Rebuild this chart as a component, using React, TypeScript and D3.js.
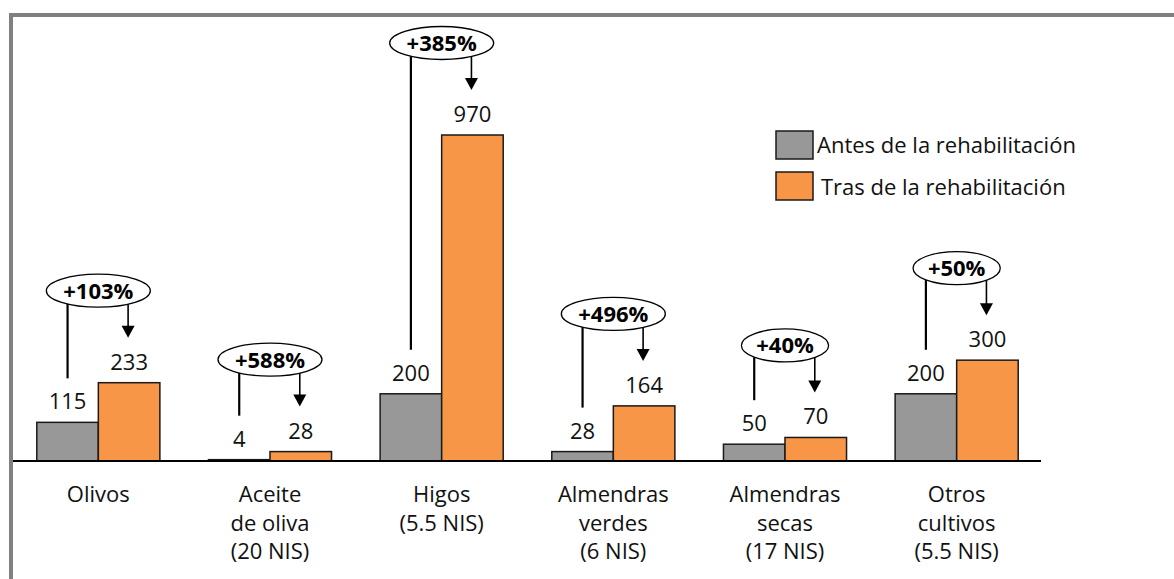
import * as d3 from "d3";

const categories: string[][] = [
  ["Olivos"],
  ["Aceite", "de oliva", "(20 NIS)"],
  ["Higos", "(5.5 NIS)"],
  ["Almendras", "verdes", "(6 NIS)"],
  ["Almendras", "secas", "(17 NIS)"],
  ["Otros", "cultivos", "(5.5 NIS)"],
];
const antes = [115, 4, 200, 28, 50, 200];
const tras = [233, 28, 970, 164, 70, 300];
const cambio = ["+103%", "+588%", "+385%", "+496%", "+40%", "+50%"];
const seriesNames = ["Antes de la rehabilitación", "Tras de la rehabilitación"];

const W = 1174;
const H = 579;
const FONT = "'Open Sans', 'Noto Sans', sans-serif";
const FS = 22;
const GRAY = "#989898";
const ORANGE = "#F79646";

export default function App() {
  const ids = categories.map((_, i) => i.toString());
  const x = d3
    .scaleBand()
    .domain(ids)
    .range([12.5, 1042.5])
    .paddingInner(0.283)
    .paddingOuter(0.1415);
  const sub = d3
    .scaleBand()
    .domain(["antes", "tras"])
    .range([0, x.bandwidth()]);
  const y = d3.scaleLinear().domain([0, 970]).range([461, 135]);

  const base = y(0);

  return (
    <svg
      width={W}
      height={H}
      style={{ position: "absolute", left: 0, top: 0, background: "#fff" }}
      fontFamily={FONT}
    >
      {/* frame */}
      <rect x={9} y={13} width={W - 9} height={4} fill="#808080" />
      <rect x={9} y={13} width={4} height={H - 13} fill="#808080" />

      {categories.map((lines, i) => {
        const gx = x(i.toString()) ?? 0;
        const ax = gx + (sub("antes") ?? 0);
        const tx = gx + (sub("tras") ?? 0);
        const bw = sub.bandwidth();
        const cx = gx + x.bandwidth() / 2;
        const ya = y(antes[i]);
        const yt = y(tras[i]);
        const cy = yt - 92;
        const rx = 10 + cambio[i].length * 8.4;
        const ry = 16.5;
        const edge = (px: number) => {
          const d = (px - cx) / rx;
          return cy + ry * Math.sqrt(Math.max(0, 1 - d * d));
        };
        const lx = ax + bw / 2;
        const arx = tx + bw / 2 - 1;
        const tip = yt - 45;
        return (
          <g key={i}>
            <rect
              x={ax}
              y={ya}
              width={bw}
              height={base - ya}
              fill={GRAY}
              stroke="#1a1a1a"
              strokeWidth={1.5}
            />
            <rect
              x={tx}
              y={yt}
              width={bw}
              height={base - yt}
              fill={ORANGE}
              stroke="#1a1a1a"
              strokeWidth={1.5}
            />
            <text
              x={lx}
              y={ya - 13}
              textAnchor="middle"
              fontSize={FS}
              fill="#111"
            >
              {antes[i]}
            </text>
            <text
              x={tx + bw / 2}
              y={yt - 13}
              textAnchor="middle"
              fontSize={FS}
              fill="#111"
            >
              {tras[i]}
            </text>
            {/* annotation */}
            <line
              x1={lx}
              x2={lx}
              y1={edge(lx)}
              y2={ya - 44}
              stroke="#000"
              strokeWidth={2.2}
            />
            <line
              x1={arx}
              x2={arx}
              y1={edge(arx)}
              y2={tip - 10}
              stroke="#000"
              strokeWidth={1.6}
            />
            <path
              d={`M${arx - 6.5},${tip - 12}L${arx + 6.5},${tip - 12}L${arx},${tip}Z`}
              fill="#000"
            />
            <ellipse
              cx={cx}
              cy={cy}
              rx={rx}
              ry={ry}
              fill="#fff"
              stroke="#000"
              strokeWidth={1.3}
            />
            <text
              x={cx}
              y={cy + 8}
              textAnchor="middle"
              fontSize={FS}
              fontWeight="bold"
              fill="#000"
            >
              {cambio[i]}
            </text>
            {lines.map((t, j) => (
              <text
                key={j}
                x={cx}
                y={502 + j * 28.5}
                textAnchor="middle"
                fontSize={FS}
                fill="#111"
              >
                {t}
              </text>
            ))}
          </g>
        );
      })}

      {/* baseline */}
      <line x1={13} x2={1041} y1={base} y2={base} stroke="#000" strokeWidth={2} />

      {/* legend */}
      <rect x={776} y={131} width={37} height={28} fill={GRAY} stroke="#1a1a1a" strokeWidth={1.5} />
      <text x={817} y={153} fontSize={FS} fill="#111">
        {seriesNames[0]}
      </text>
      <rect x={776} y={172} width={37} height={28} fill={ORANGE} stroke="#1a1a1a" strokeWidth={1.5} />
      <text x={821} y={195} fontSize={FS} fill="#111">
        {seriesNames[1]}
      </text>
    </svg>
  );
}
